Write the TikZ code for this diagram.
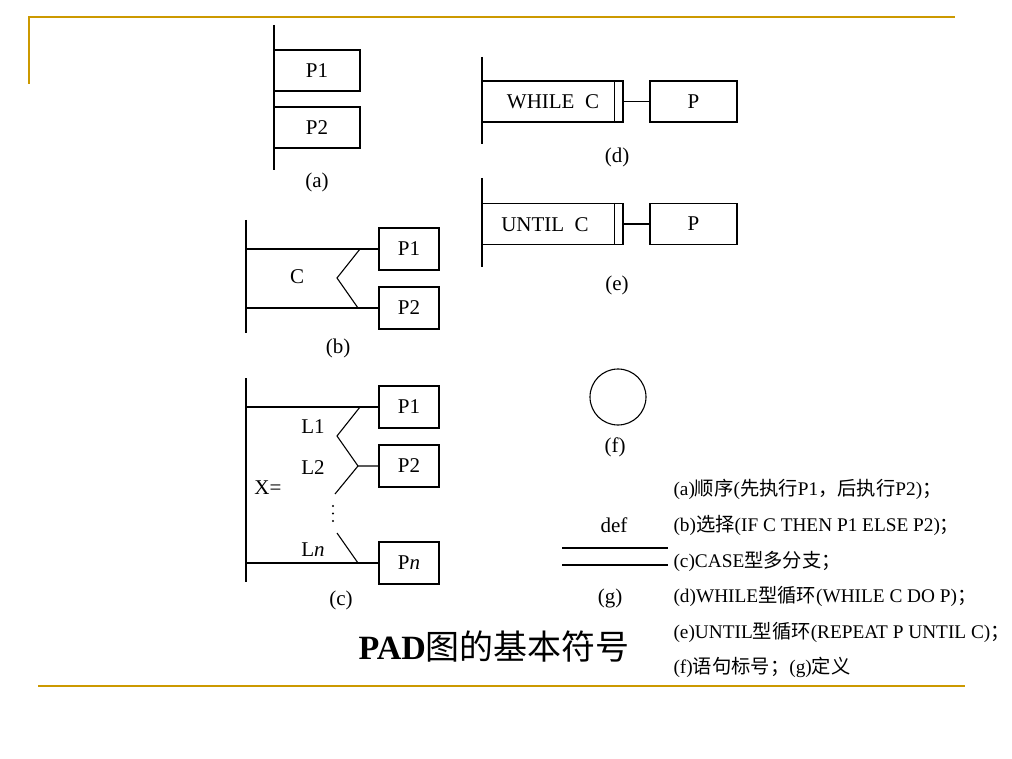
\documentclass[tikz,border=0pt]{standalone}
\usepackage{fontspec}
\setmainfont{Liberation Serif}
\newfontfamily\cjk{Noto Sans CJK SC}
\usetikzlibrary{calc}
\definecolor{gold}{RGB}{204,153,0}

\begin{document}
\begin{tikzpicture}[x=1pt, y=-1pt, line width=1.1pt,
    box/.style={draw, inner sep=0pt, minimum width=60pt, minimum height=42pt,
      font=\fontsize{21}{25}\selectfont},
    lbl/.style={inner sep=0pt, font=\fontsize{21}{25}\selectfont},
    note/.style={anchor=base west, inner sep=0pt, font=\fontsize{19.3}{22}\selectfont},
    rule/.style={draw=gold, line width=2.2pt}]
  \useasboundingbox (0,0) rectangle (1012,759);

  % slide frame
  \draw[rule] (29,84) -- (29,17) -- (955,17);
  \draw[rule] (38,686) -- (965,686);

  % (a)
  \coordinate (at) at (274,25);
  \coordinate (ab) at (274,170);
  \draw (at) -- (ab);
  \node[box, minimum width=86pt, minimum height=41pt] (a1) at (317,70.5) {P1};
  \node[box, minimum width=86pt, minimum height=41pt] (a2) at (317,127.5) {P2};
  \node[lbl] (la) at (317,182) {(a)};

  % (b)
  \coordinate (bt) at (246,220);
  \coordinate (bb) at (246,333);
  \draw (bt) -- (bb);
  \node[box] (b1) at (409,249) {P1};
  \node[box] (b2) at (409,308) {P2};
  \draw (bt |- b1.west) -- (b1.west);
  \draw (bt |- b2.west) -- (b2.west);
  \draw (360,249) -- (337,278) -- (358,308);
  \node[lbl] (bc) at (297,277) {C};
  \node[lbl] (lb) at (338,348) {(b)};

  % (c)
  \coordinate (ct) at (246,378);
  \coordinate (cb) at (246,582);
  \draw (ct) -- (cb);
  \node[box] (c1) at (409,407) {P1};
  \node[box] (c2) at (409,466) {P2};
  \node[box] (cn) at (409,563) {P\textit{n}};
  \draw (ct |- c1.west) -- (c1.west);
  \draw (ct |- cn.west) -- (cn.west);
  \coordinate (cm) at (358,466);
  \draw (360,407) -- (337,436) -- (cm) -- (c2.west);
  \draw (cm) -- (335,494);
  \draw (337,533) -- (358,563);
  \foreach \y in {506,513.5,521}
    \fill (333,\y) circle (1.2pt);
  \node[lbl] (l1) at (313,427) {L1};
  \node[lbl] (l2) at (313,468) {L2};
  \node[lbl] (lx) at (268,488) {X=};
  \node[lbl] (ln) at (313,550) {L\textit{n}};
  \node[lbl] (lc) at (341,600) {(c)};

  % (d)
  \coordinate (dt) at (482,57);
  \coordinate (db) at (482,144);
  \draw (dt) -- (db);
  \node[box, minimum width=141pt, minimum height=41pt] (wc) at (552.5,101.5) {};
  \node[lbl] (wt) at (553,102) {WHILE\ \ C};
  \draw ($(wc.north east)+(-9,0)$) -- ($(wc.south east)+(-9,0)$);
  \node[box, minimum width=87pt, minimum height=41pt] (wp) at (693.5,101.5) {P};
  \draw (wc) -- (wp);
  \node[lbl] (ld) at (617,157) {(d)};

  % (e)
  \coordinate (et) at (482,178);
  \coordinate (eb) at (482,267);
  \draw (et) -- (eb);
  \node[box, minimum width=141pt, minimum height=41pt] (uc) at (552.5,224) {};
  \node[lbl] (ut) at (545,225) {UNTIL\ \ C};
  \draw ($(uc.north east)+(-9,0)$) -- ($(uc.south east)+(-9,0)$);
  \node[box, minimum width=87pt, minimum height=41pt] (up) at (693.5,224) {P};
  \draw (uc) -- (up);
  \node[lbl] (le) at (617,285) {(e)};

  % (f)
  \node[draw, circle, minimum size=56pt, inner sep=0pt] (fc) at (618,397) {};
  \node[lbl] (lf) at (615,447) {(f)};

  % (g)
  \node[lbl] (def) at (614,525) {def};
  \draw (562,548) -- (668,548);
  \draw (562,565) -- (668,565);
  \node[lbl] (lg) at (610,598) {(g)};

  % legend
  \node[note] (n1) at (673,495) {(a){\cjk 顺序}({\cjk 先执行}P1{\cjk ，后执行}P2){\cjk ；}};
  \node[note] (n2) at (673,531) {(b){\cjk 选择}(IF C THEN P1 ELSE P2){\cjk ；}};
  \node[note] (n3) at (673,567) {(c)CASE{\cjk 型多分支；}};
  \node[note] (n4) at (673,602) {(d)WHILE{\cjk 型循环}(WHILE C DO P){\cjk ；}};
  \node[note] (n5) at (673,638) {(e)UNTIL{\cjk 型循环}(REPEAT P UNTIL C){\cjk ；}};
  \node[note] (n6) at (673,673) {(f){\cjk 语句标号；}(g){\cjk 定义}};

  \node[anchor=base west, inner sep=0pt, font=\fontsize{34}{38}\selectfont] (title)
    at (358,659) {\textbf{PAD}{\cjk 图的基本符号}};
\end{tikzpicture}
\end{document}
